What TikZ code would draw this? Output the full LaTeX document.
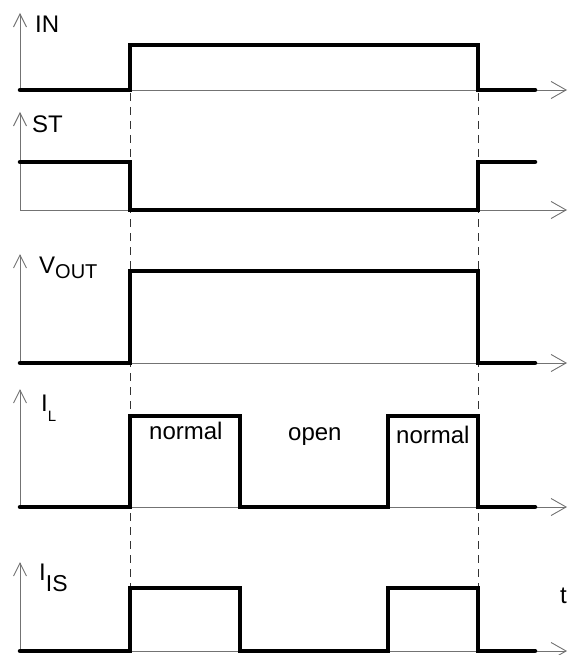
\documentclass[tikz,border=0pt]{standalone}
\usepackage{fontspec}
\setmainfont{Liberation Sans}
\usetikzlibrary{arrows.meta}
% lowered index: shift, size, text
\newcommand{\lowidx}[3]{\raisebox{-#1pt}{\fontsize{#2}{#2}\selectfont #3}}

\begin{document}
\begin{tikzpicture}[x=1pt, y=-1pt,
	axis/.style={draw=black!55, line width=0.9pt},
	vaxis/.style={axis, -{Straight Barb[length=13pt, width=13pt]}},
	haxis/.style={axis, -{Straight Barb[length=15pt, width=17pt]}},
	signal/.style={line width=4.5pt, line cap=round, line join=miter},
	guide/.style={black!80, line width=0.8pt, dash pattern=on 8pt off 6pt},
	lbl/.style={font=\fontsize{24}{28}\selectfont, anchor=base west, inner sep=0pt}]
	\useasboundingbox (0,0) rectangle (570,655);
	% axes of the five traces
	\foreach \top/\base in {13/90, 112/210, 254/363, 389/507, 562/651}{
		\draw[vaxis] (20,\base) -- (20,\top);
		\draw[haxis] (20,\base) -- (567,\base);
	}
	% switching instants
	\draw[guide] (130,93) -- (130,588);
	\draw[guide] (478,93) -- (478,588);
	% traces
	\draw[signal] (20,90) -- (130,90) -- (130,45) -- (478,45) -- (478,90) -- (535,90);
	\draw[signal] (20,162) -- (130,162) -- (130,210) -- (478,210) -- (478,162) -- (535,162);
	\draw[signal] (20,363) -- (130,363) -- (130,271) -- (478,271) -- (478,363) -- (535,363);
	\draw[signal] (20,507) -- (130,507) -- (130,416) -- (240,416) -- (240,507)
		-- (388,507) -- (388,416) -- (478,416) -- (478,507) -- (535,507);
	\draw[signal] (20,651) -- (130,651) -- (130,588) -- (240,588) -- (240,651)
		-- (388,651) -- (388,588) -- (478,588) -- (478,651) -- (535,651);
	% labels
	\node[lbl] (in) at (35,33) {IN};
	\node[lbl] (st) at (32,133) {ST};
	\node[lbl] (vout) at (39,273) {V\lowidx{5}{20}{OUT}};
	\node[lbl] (il) at (41,411) {I\lowidx{10}{15}{L}};
	\node[lbl] (iis) at (39,580) {I\lowidx{11}{23}{IS}};
	\node[lbl] (t) at (560,603) {t};
	\node[lbl] (norm1) at (149,439) {normal};
	\node[lbl] (open) at (288,440) {open};
	\node[lbl] (norm2) at (396,443) {normal};
\end{tikzpicture}
\end{document}
